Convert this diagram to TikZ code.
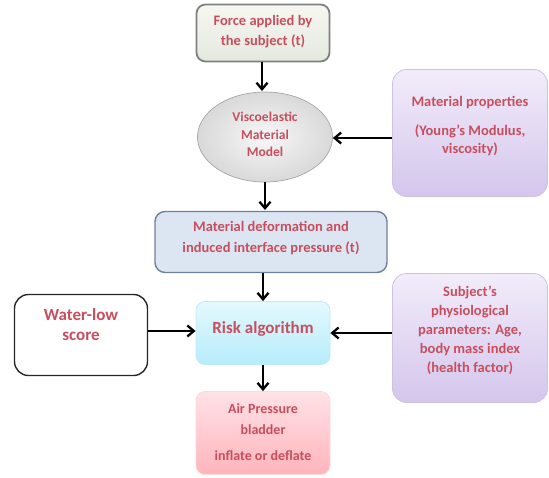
\documentclass[tikz,border=0pt]{standalone}
\usepackage{fontspec}
\setmainfont{Carlito}
\usetikzlibrary{arrows.meta,shapes.geometric,shadings}
\definecolor{txt}{RGB}{200,78,94}
\definecolor{creamtop}{RGB}{246,247,240}
\definecolor{creambot}{RGB}{228,233,224}
\definecolor{lavtop}{RGB}{242,236,250}
\definecolor{lavbot}{RGB}{212,198,236}
\definecolor{lavline}{RGB}{205,195,225}
\definecolor{bluefill}{RGB}{220,230,243}
\definecolor{blueline}{RGB}{110,128,158}
\definecolor{cyantop}{RGB}{228,249,254}
\definecolor{cyanbot}{RGB}{182,236,250}
\definecolor{pinktop}{RGB}{255,226,230}
\definecolor{pinkbot}{RGB}{255,180,188}
\tikzset{
  lbl/.style={text=txt,font=\bfseries\fontsize{14.5}{19.5}\selectfont,align=center,inner sep=0pt},
  biglbl/.style={lbl,font=\bfseries\fontsize{17}{20}\selectfont},
  boxbase/.style={rectangle,rounded corners=9pt,line width=0.8pt},
  arr/.style={line width=2.3pt,-{Straight Barb[length=6.5pt,width=11pt,line width=2.3pt]}},
}
\begin{document}
\begin{tikzpicture}[x=1pt,y=1pt]
\useasboundingbox (0,0) rectangle (549,-477);
% shapes
\node[boxbase,minimum width=133pt,minimum height=57pt,draw=black!50,line width=1.8pt,top color=creamtop,bottom color=creambot] (force) at (263,-33) {};
\node[ellipse,minimum width=135pt,minimum height=90pt,draw=gray!70,line width=0.7pt,inner color=gray!6,outer color=gray!30] (visco) at (265,-137) {};
\node[boxbase,minimum width=155pt,minimum height=127pt,rounded corners=14pt,draw=lavline,top color=lavtop,bottom color=lavbot] (matprop) at (470,-133) {};
\node[boxbase,minimum width=232pt,minimum height=61pt,rounded corners=10pt,draw=blueline,line width=1.4pt,fill=bluefill] (deform) at (271,-242) {};
\node[boxbase,minimum width=134pt,minimum height=63pt,draw=cyan!25,top color=cyantop,bottom color=cyanbot] (risk) at (263,-333) {};
\node[boxbase,minimum width=133pt,minimum height=81pt,rounded corners=14pt,draw=black!85,line width=1.4pt,fill=white] (water) at (81,-335) {};
\node[boxbase,minimum width=155pt,minimum height=129pt,rounded corners=14pt,draw=lavline,top color=lavtop,bottom color=lavbot] (subject) at (470,-338) {};
\node[boxbase,minimum width=134pt,minimum height=83pt,draw=red!15,top color=pinktop,bottom color=pinkbot] (air) at (263,-433) {};
% texts
\node[lbl] (forcetxt) at (263,-32) {Force applied by\\[0.5pt]the subject (t)};
\node[lbl,font=\bfseries\fontsize{13.5}{17.5}\selectfont] (viscotxt) at (265,-134.5) {Viscoelastic\\Material\\Model};
\node[lbl,font=\bfseries\fontsize{14.5}{18.5}\selectfont] (matproptxt) at (470,-126.5) {Material properties\\[10pt](Young's Modulus,\\viscosity)};
\node[lbl] (deformtxt) at (271,-238.5) {Material deformation and\\[1.5pt]induced interface pressure (t)};
\node[biglbl] (risktxt) at (263,-329) {Risk algorithm};
\node[biglbl] (watertxt) at (81,-325) {Water-low\\score};
\node[lbl,font=\bfseries\fontsize{14.5}{19}\selectfont] (subjecttxt) at (470,-330) {Subject's\\physiological\\parameters: Age,\\body mass index\\(health factor)};
\node[lbl,font=\bfseries\fontsize{14}{21}\selectfont] (airtxt) at (263,-432.5) {Air Pressure\\bladder\\[5pt]inflate or deflate};
% arrows
\draw[arr] (force.south -| 262,0) -- (262,-91);
\draw[arr] (matprop.west |- 0,-138) -- (visco.east |- 0,-138);
\draw[arr] (visco.south) -- (265,-210);
\draw[arr] (263,-273) -- (risk.north);
\draw[arr] (water.east |- 0,-331) -- (risk.west |- 0,-331);
\draw[arr] (subject.west |- 0,-333) -- (risk.east);
\draw[arr] (risk.south) -- (air.north);
\end{tikzpicture}
\end{document}
